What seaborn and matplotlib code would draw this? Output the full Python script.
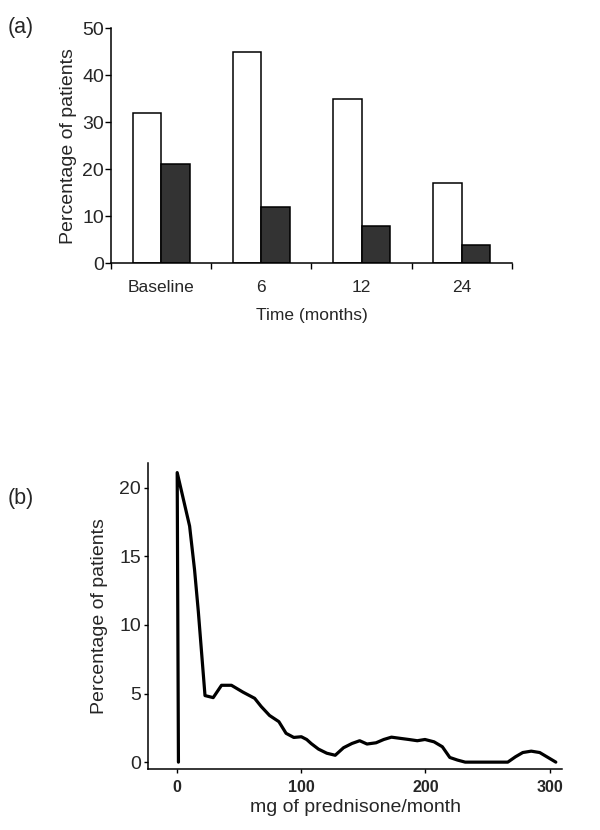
import matplotlib
matplotlib.use('Agg')
import matplotlib.pyplot as plt
import seaborn as sns
import pandas as pd

# panel (a): bars
time_labels = ['Baseline', '6', '12', '24']
open_bars = [32, 45, 35, 17]
filled_bars = [21, 12, 8, 3.8]

# panel (b): dose curve
dose_mg = [1, 0, 10, 14, 17, 22.4, 29, 35.7, 43.7, 53, 62.4, 67.7, 74.4, 81.9, 87.7,
           93.9, 100, 104.3, 108, 113.8, 120.5, 127.3, 134, 140.8, 147, 152.9, 160.2,
           166.4, 172.6, 179.9, 186.6, 193.4, 199.6, 206.9, 213.6, 219.6, 225.8, 232,
           266.3, 272.5, 278.4, 285.2, 292, 298.7, 305]
dose_pct = [0, 21.1, 17.2, 14.0, 11.0, 4.85, 4.7, 5.6, 5.6, 5.1, 4.65, 4.05, 3.4, 2.95, 2.1,
            1.8, 1.85, 1.65, 1.35, 0.95, 0.65, 0.5, 1.05, 1.36, 1.56, 1.32, 1.41,
            1.65, 1.82, 1.73, 1.65, 1.56, 1.65, 1.48, 1.12, 0.34, 0.15, 0,
            0, 0.39, 0.7, 0.8, 0.7, 0.34, 0]

sns.set_theme(style='ticks')
plt.rcParams['font.family'] = ['Liberation Sans', 'DejaVu Sans']

n = len(time_labels)
df_a = pd.DataFrame({
    'Time': time_labels * 2,
    'Pct': open_bars + filled_bars,
    'Group': ['open'] * n + ['filled'] * n,
})
df_b = pd.DataFrame({'Dose': dose_mg, 'Pct': dose_pct})

fig = plt.figure(figsize=(6, 8.3), dpi=100)

# ---- (a)
ax1 = fig.add_axes([0.185, 0.683, 0.668, 0.283])
sns.barplot(data=df_a, x='Time', y='Pct', hue='Group', palette=['white', '#333333'],
            edgecolor='black', linewidth=1.1, width=0.57, legend=False, ax=ax1)
ax1.set_xlim(-0.5, n - 0.5)
ax1.set_ylim(0, 50)
ax1.set_yticks(range(0, 51, 10))
ax1.set_xticks([i - 0.5 for i in range(n + 1)])
ax1.set_xticklabels([])
ax1.set_xticks(range(n), minor=True)
ax1.set_xticklabels(time_labels, minor=True, fontsize=12.5)
ax1.tick_params(axis='x', which='minor', length=0, pad=12)
ax1.tick_params(axis='both', which='major', length=4, width=1, color='black')
ax1.tick_params(axis='y', labelsize=14, pad=1)
ax1.set_xlabel('Time (months)', fontsize=12.5, labelpad=9.5)
ax1.set_ylabel('Percentage of patients', fontsize=14, labelpad=4)
for s in ['top', 'right']:
    ax1.spines[s].set_visible(False)
for s in ['left', 'bottom']:
    ax1.spines[s].set_linewidth(1.1)
    ax1.spines[s].set_color('black')
fig.text(0.013, 0.967, '(a)', fontsize=15.5, va='center', ha='left')

# ---- (b)
ax2 = fig.add_axes([0.2467, 0.0735, 0.69, 0.3687])
sns.lineplot(data=df_b, x='Dose', y='Pct', sort=False, estimator=None,
             color='black', linewidth=2.3, ax=ax2)
ax2.set_xlim(-23.5, 310)
ax2.set_ylim(-0.5, 21.8)
ax2.set_xticks([0, 100, 200, 300])
ax2.set_yticks([0, 5, 10, 15, 20])
ax2.tick_params(axis='both', length=3, width=1, color='black')
ax2.tick_params(axis='y', labelsize=14, pad=2)
ax2.tick_params(axis='x', labelsize=11.5, pad=5)
for lab in ax2.get_xticklabels():
    lab.set_fontweight('bold')
ax2.set_xlabel('mg of prednisone/month', fontsize=14, labelpad=3)
ax2.set_ylabel('Percentage of patients', fontsize=14, labelpad=8)
for s in ['top', 'right']:
    ax2.spines[s].set_visible(False)
for s in ['left', 'bottom']:
    ax2.spines[s].set_linewidth(1.1)
    ax2.spines[s].set_color('black')
fig.text(0.013, 0.40, '(b)', fontsize=15.5, va='center', ha='left')

fig.savefig('out.png', dpi=100)
